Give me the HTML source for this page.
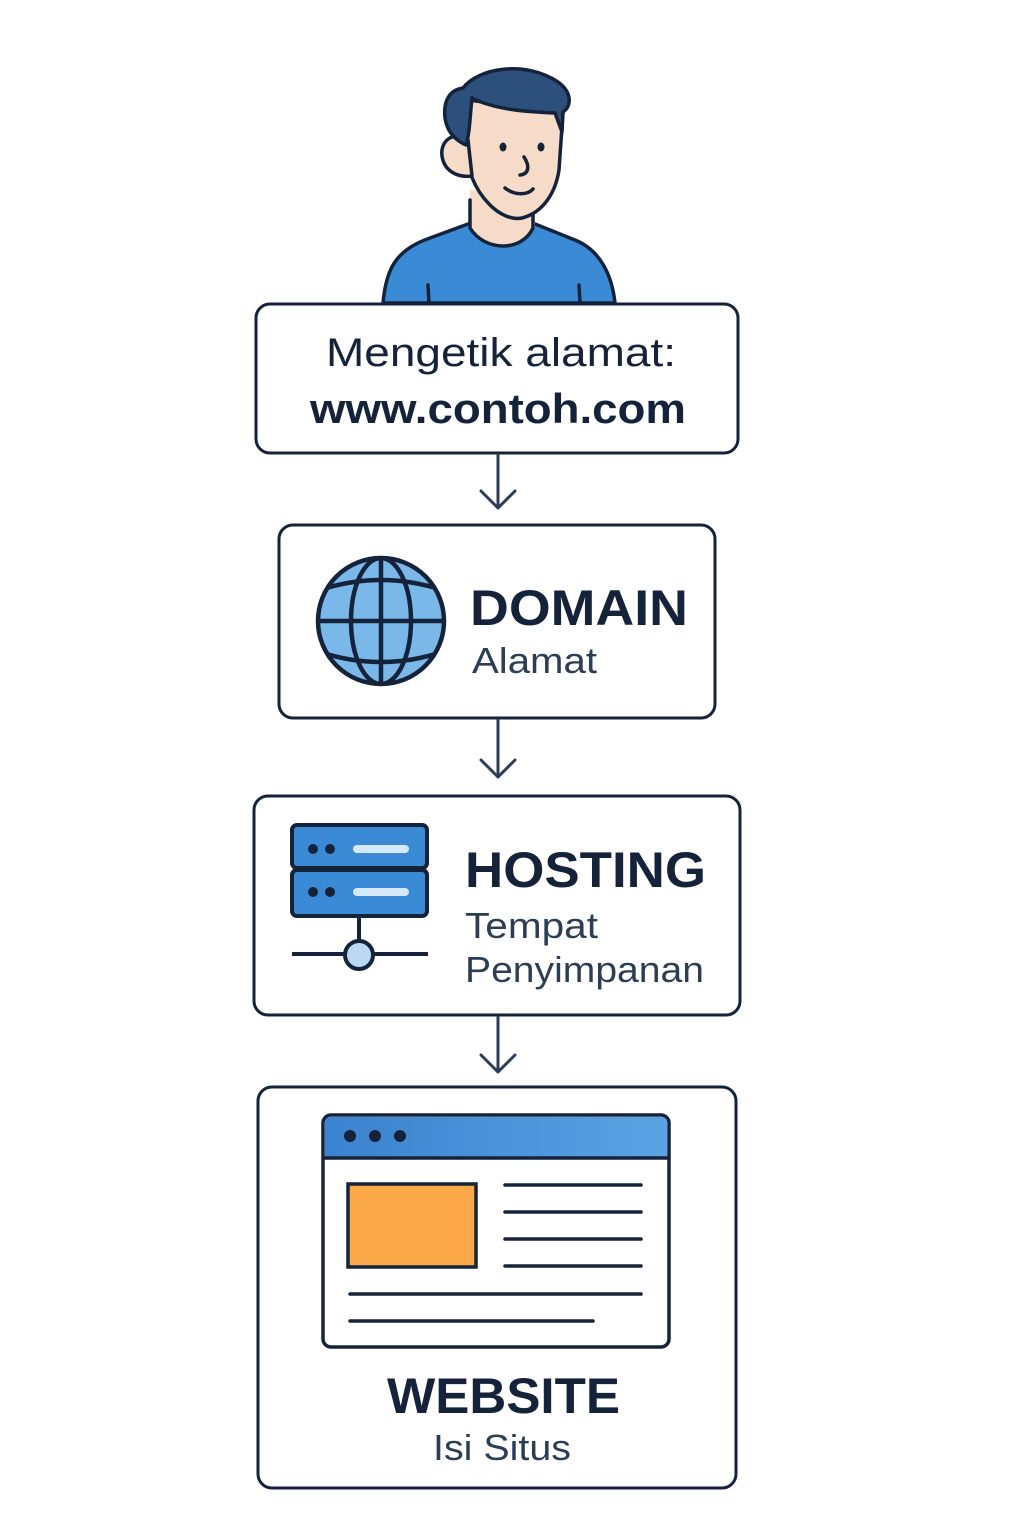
<!DOCTYPE html>
<html><head><meta charset="utf-8"><style>
html,body{margin:0;padding:0;background:#fff;}
svg{display:block;}
text{font-family:"Liberation Sans","DejaVu Sans",sans-serif;fill:#15233a;}
</style></head><body>
<svg width="1024" height="1536" viewBox="0 0 1024 1536" xmlns="http://www.w3.org/2000/svg">
<defs>
<linearGradient id="hb" x1="0" x2="1"><stop offset="0" stop-color="#3b82d0"/><stop offset="1" stop-color="#5aa3e3"/></linearGradient>
<clipPath id="gc"><circle cx="381" cy="621" r="63"/></clipPath>
</defs>
<g stroke="#15233a" stroke-width="3.5" stroke-linejoin="round" stroke-linecap="round">
<path d="M383 303 C386 270 395 250 430 238 L468 224 L535 224 L575 240 C600 250 612 275 615 303 Z" fill="#3a8ad6"/>
<path d="M470 190 L470 226 C480 248 525 255 535 226 L535 190 Z" fill="#f6dcc8" stroke="none"/>
<path d="M470 200 L470 228 C485 252 522 252 533 228 L533 205" fill="none"/>
<path d="M429 303 L428 285 M580 303 L579 285" fill="none"/>
<path d="M468 100 L465 140 C466 170 475 190 490 205 C500 215 512 220 522 218 C545 212 556 190 559 170 L563 112 Z" fill="#f6dcc8"/>
<path d="M468 140 C452 130 440 142 442 156 C444 170 456 178 472 176 Z" fill="#f6dcc8"/>
<path d="M466 145 C455 140 447 132 445 118 C443 100 450 90 463 88 C478 68 525 60 558 82 C572 92 572 106 563 112 L562 132 L555 113 C530 112 495 110 472 98 C470 115 470 132 466 145 Z" fill="#2d4f7c"/>
<path d="M505 188 C515 196 528 195 533 189" fill="none"/>
<path d="M524 157 C530 166 529 174 520 175" fill="none"/>
</g>
<ellipse cx="503" cy="147" rx="3.5" ry="4.5" fill="#15233a"/>
<ellipse cx="541" cy="147" rx="3.5" ry="4.5" fill="#15233a"/>

<g fill="#fff" stroke="#15233a" stroke-width="3">
<rect x="256" y="304" width="482" height="149" rx="14"/>
<rect x="279" y="525" width="436" height="193" rx="14"/>
<rect x="254" y="796" width="486" height="219" rx="14"/>
<rect x="258" y="1087" width="478" height="401" rx="14"/>
</g>
<g stroke="#2c3e56" stroke-width="3" fill="none" stroke-linecap="round" stroke-linejoin="round">
<path d="M498 455 V508 M481 491 L498 508 L515 491"/>
<path d="M498 720 V777 M481 760 L498 777 L515 760"/>
<path d="M498 1017 V1072 M481 1055 L498 1072 L515 1055"/>
</g>
<text x="326" y="366" font-size="40" textLength="350" lengthAdjust="spacingAndGlyphs">Mengetik alamat:</text>
<text x="310" y="423" font-size="42" font-weight="bold" textLength="376" lengthAdjust="spacingAndGlyphs">www.contoh.com</text>

<g stroke="#15233a" stroke-width="4.5" fill="none">
<circle cx="381" cy="621" r="63" fill="#7ab8ea"/>
<g clip-path="url(#gc)">
<line x1="381" y1="556" x2="381" y2="686"/>
<line x1="316" y1="621" x2="446" y2="621"/>
<ellipse cx="381" cy="621" rx="30" ry="63"/>
<path d="M320 590 Q381 570 442 590"/>
<path d="M320 652 Q381 672 442 652"/>
</g>
</g>
<text x="470" y="625" font-size="50" font-weight="bold" textLength="218" lengthAdjust="spacingAndGlyphs">DOMAIN</text>
<text x="472" y="673" font-size="36" textLength="125" lengthAdjust="spacingAndGlyphs" style="fill:#2c3e56">Alamat</text>

<g stroke="#15233a" stroke-width="4">
<rect x="292" y="825" width="135" height="43" rx="5" fill="#3a8ad6"/>
<rect x="292" y="870" width="135" height="46" rx="5" fill="#3a8ad6"/>
<line x1="359" y1="916" x2="359" y2="941"/>
<line x1="292" y1="954" x2="428" y2="954"/>
<circle cx="359" cy="955" r="14" fill="#bcd9f3"/>
</g>
<g fill="#15233a"><circle cx="313" cy="849" r="5"/><circle cx="330" cy="849" r="5"/><circle cx="313" cy="892" r="5"/><circle cx="330" cy="892" r="5"/></g>
<rect x="353" y="845" width="56" height="8" rx="4" fill="#d6e9fa"/>
<rect x="353" y="888" width="56" height="8" rx="4" fill="#d6e9fa"/>
<text x="465" y="887" font-size="50" font-weight="bold" textLength="241" lengthAdjust="spacingAndGlyphs">HOSTING</text>
<text x="465" y="938" font-size="36" textLength="133" lengthAdjust="spacingAndGlyphs" style="fill:#2c3e56">Tempat</text>
<text x="465" y="982" font-size="36" textLength="239" lengthAdjust="spacingAndGlyphs" style="fill:#2c3e56">Penyimpanan</text>

<rect x="323" y="1115" width="346" height="232" rx="8" fill="#fff" stroke="#15233a" stroke-width="3.5"/>
<path d="M325 1158 V1123 Q325 1117 331 1117 H661 Q667 1117 667 1123 V1158 Z" fill="url(#hb)"/>
<line x1="323" y1="1158" x2="669" y2="1158" stroke="#15233a" stroke-width="3.5"/>
<g fill="#15233a"><circle cx="350" cy="1136" r="6"/><circle cx="375" cy="1136" r="6"/><circle cx="400" cy="1136" r="6"/></g>
<rect x="348" y="1184" width="128" height="83" fill="#fba849" stroke="#15233a" stroke-width="3.5"/>
<g stroke="#15233a" stroke-width="3.5" stroke-linecap="round">
<line x1="505" y1="1185" x2="641" y2="1185"/>
<line x1="505" y1="1212" x2="641" y2="1212"/>
<line x1="505" y1="1239" x2="641" y2="1239"/>
<line x1="505" y1="1266" x2="641" y2="1266"/>
<line x1="350" y1="1294" x2="641" y2="1294"/>
<line x1="350" y1="1321" x2="593" y2="1321"/>
</g>
<text x="387" y="1413" font-size="50" font-weight="bold" textLength="233" lengthAdjust="spacingAndGlyphs">WEBSITE</text>
<text x="433" y="1460" font-size="36" textLength="138" lengthAdjust="spacingAndGlyphs" style="fill:#2c3e56">Isi Situs</text>
</svg>
</body></html>
